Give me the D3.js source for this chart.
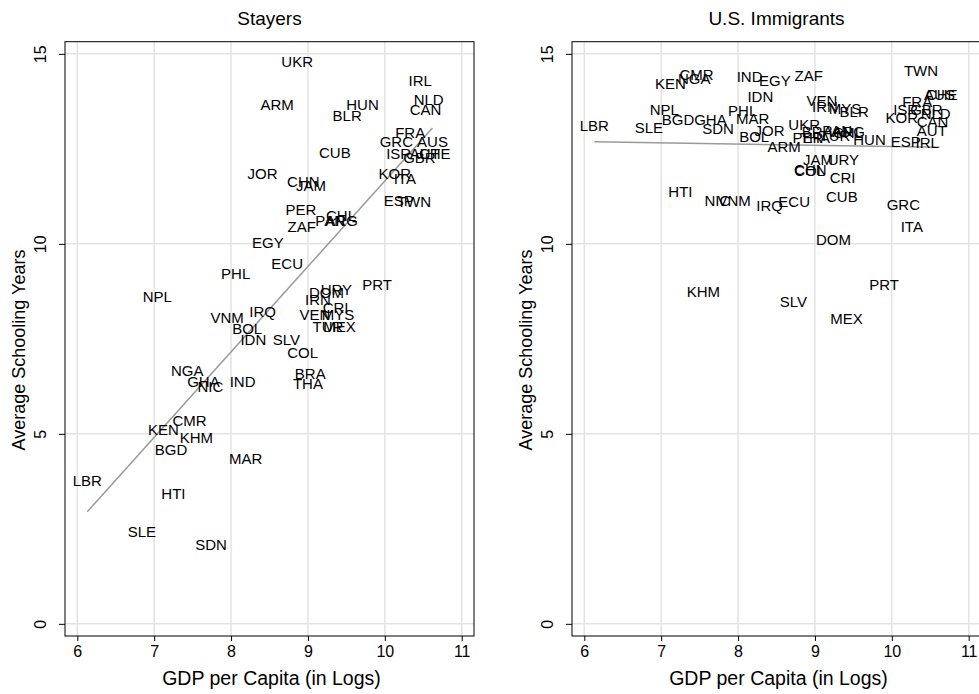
<!DOCTYPE html>
<html>
<head>
<meta charset="utf-8">
<script src="https://cdn.jsdelivr.net/npm/d3@7"></script>
<style>
  body { margin: 0; background: #fff; }
  svg text { font-family: "Liberation Sans", Arial, Helvetica, sans-serif; fill: #000; }
</style>
</head>
<body>
<div id="container"></div>
<script>
// country codes, log GDP per capita, schooling of stayers and of US immigrants
const countries = ["LBR","SLE","KEN","NPL","BGD","HTI","NGA","CMR","KHM","GHA","NIC","SDN","VNM","PHL","IND","MAR","BOL","IDN","IRQ","JOR","EGY","ARM","SLV","ECU","UKR","PER","ZAF","COL","CHN","THA","JAM","BRA","VEN","IRN","DOM","TUR","PAN","CRI","CUB","URY","MYS","MEX","CHL","ARG","BLR","HUN","PRT","KOR","GRC","ESP","ISR","ITA","FRA","TWN","IRL","GBR","AUT","CAN","NLD","AUS","CHE"];
const gdp = [6.13,6.84,7.12,7.04,7.22,7.25,7.43,7.46,7.55,7.64,7.73,7.74,7.95,8.06,8.15,8.19,8.21,8.29,8.41,8.41,8.48,8.60,8.72,8.73,8.86,8.91,8.92,8.93,8.94,9.00,9.04,9.03,9.09,9.13,9.24,9.26,9.29,9.36,9.35,9.37,9.39,9.41,9.43,9.44,9.51,9.71,9.90,10.13,10.15,10.18,10.18,10.26,10.33,10.38,10.46,10.45,10.52,10.53,10.57,10.62,10.65];
const schoolStayers = [3.77,2.43,5.12,8.61,4.58,3.42,6.67,5.35,4.91,6.38,6.25,2.08,8.07,9.23,6.38,4.34,7.76,7.49,8.22,11.86,10.02,13.66,7.47,9.49,14.80,10.91,10.46,7.14,11.64,6.33,11.53,6.58,8.13,8.54,8.72,7.81,10.60,8.31,12.41,8.79,8.13,7.82,10.74,10.60,13.37,13.66,8.94,11.86,12.69,11.13,12.37,11.73,12.94,11.11,14.30,12.28,12.37,13.54,13.79,12.69,12.37];
const schoolImmigrants = [13.10,13.06,14.23,13.53,13.28,11.38,14.36,14.45,8.75,13.28,11.14,13.04,11.14,13.51,14.40,13.29,12.82,13.88,11.00,12.97,14.30,12.56,8.48,11.11,13.13,12.80,14.42,11.92,11.95,12.80,12.21,12.95,13.76,13.60,10.10,12.85,12.98,11.74,11.24,12.21,13.57,8.04,12.93,12.95,13.48,12.74,8.94,13.31,11.03,12.68,13.53,10.45,13.75,14.56,12.66,13.53,12.98,13.22,13.44,13.92,13.92];

const xTicks = [6, 7, 8, 9, 10, 11];
const yTicks = [0, 5, 10, 15];

// fitted lines (start and end)
const fitX = [6.13, 10.62];
const fitStayers = [2.95, 13.05];
const fitImmigrants = [12.69, 12.54];

const W = 979, H = 694;
const plotTop = 41.7, plotBottom = 636, plotW = 409;

const svg = d3.select('#container').append('svg')
  .attr('width', W).attr('height', H);

const y = d3.scaleLinear().domain([-0.32, 15.32]).range([plotBottom, plotTop]);

function drawPanel(left, title, values, fit) {
  const x = d3.scaleLinear().domain([5.84, 11.16]).range([left, left + plotW]);
  const g = svg.append('g');

  // grid
  g.selectAll('.hgrid').data(yTicks).enter().append('line')
    .attr('x1', left).attr('x2', left + plotW)
    .attr('y1', d => y(d)).attr('y2', d => y(d))
    .attr('stroke', '#e3e3e3').attr('stroke-width', 1.5);
  g.selectAll('.vgrid').data(xTicks).enter().append('line')
    .attr('x1', d => x(d)).attr('x2', d => x(d))
    .attr('y1', plotTop).attr('y2', plotBottom)
    .attr('stroke', '#e3e3e3').attr('stroke-width', 1.5);

  // frame
  g.append('rect')
    .attr('x', left).attr('y', plotTop)
    .attr('width', plotW).attr('height', plotBottom - plotTop)
    .attr('fill', 'none').attr('stroke', '#000').attr('stroke-width', 1);

  // axes
  const xAxis = g.append('g')
    .attr('transform', `translate(0, ${plotBottom})`)
    .call(d3.axisBottom(x).tickValues(xTicks).tickSize(5).tickPadding(5).tickFormat(d3.format('d')));
  xAxis.select('.domain').remove();
  xAxis.selectAll('text').style('font-size', '16px');

  const yAxis = g.append('g')
    .attr('transform', `translate(${left}, 0)`)
    .call(d3.axisLeft(y).tickValues(yTicks).tickSize(6).tickFormat(d3.format('d')));
  yAxis.select('.domain').remove();
  // Stata style: tick labels turned on their side
  yAxis.selectAll('.tick text')
    .attr('x', 0).attr('dy', 0)
    .attr('transform', 'translate(-19, 0) rotate(-90)')
    .style('text-anchor', 'middle')
    .style('font-size', '16px');

  // fit line
  g.append('line')
    .attr('x1', x(fitX[0])).attr('y1', y(fit[0]))
    .attr('x2', x(fitX[1])).attr('y2', y(fit[1]))
    .attr('stroke', '#9a9a9a').attr('stroke-width', 1.5);

  // country labels
  g.selectAll('.lab').data(countries).enter().append('text')
    .attr('x', (d, i) => x(gdp[i]))
    .attr('y', (d, i) => y(values[i]))
    .attr('dy', '0.36em')
    .attr('text-anchor', 'middle')
    .style('font-size', '15px')
    .text(d => d);

  // titles
  g.append('text')
    .attr('x', left + plotW / 2).attr('y', 25)
    .attr('text-anchor', 'middle')
    .style('font-size', '19px')
    .text(title);

  g.append('text')
    .attr('x', left + plotW / 2 + 2).attr('y', 685)
    .attr('text-anchor', 'middle')
    .style('font-size', '19.5px')
    .text('GDP per Capita (in Logs)');

  g.append('text')
    .attr('transform', `translate(${left - 40}, 350) rotate(-90)`)
    .attr('text-anchor', 'middle')
    .style('font-size', '18px')
    .text('Average Schooling Years');
}

drawPanel(65, 'Stayers', schoolStayers, fitStayers);
drawPanel(572, 'U.S. Immigrants', schoolImmigrants, fitImmigrants);
</script>
</body>
</html>
